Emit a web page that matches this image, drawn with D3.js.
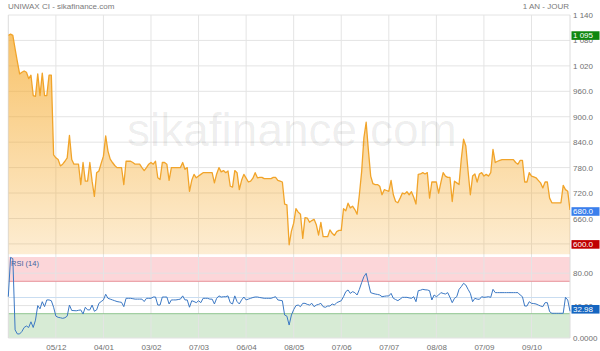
<!DOCTYPE html>
<html>
<head>
<meta charset="utf-8">
<script src="https://cdn.jsdelivr.net/npm/d3@7"></script>
<style>
body { margin: 0; background: #fff; }
svg { display: block; font-family: "Liberation Sans", Arial, sans-serif; }
</style>
</head>
<body>
<script>

// daily closing prices, one per trading day
var price = [
1092,1095,1092,1060,1030,1001,1005,1008,1005,990,
998,950,948,1001,950,1003,950,950,998,998,
810,803,799,784,788,795,803,856,799,788,
788,788,740,792,748,748,792,748,712,768,
772,790,807,855,819,800,792,785,780,780,
780,740,795,795,795,792,788,788,788,780,
773,780,788,792,788,795,756,752,792,792,
788,750,780,780,780,780,780,792,776,780,
724,750,764,756,760,764,768,768,768,768,
768,744,765,780,770,773,768,772,736,734,
773,768,728,750,764,755,746,748,755,768,
756,757,757,754,754,754,754,757,757,750,
748,746,694,692,598,630,649,683,675,670,
613,662,661,651,655,658,645,621,651,617,
617,617,633,625,620,629,632,632,683,678,
696,685,689,681,670,716,770,850,887,820,
760,742,740,740,736,716,728,726,724,750,
716,700,697,708,720,718,723,716,723,710,
694,764,765,768,765,768,708,746,746,746,
720,745,768,760,757,757,700,748,744,740,
800,847,831,772,716,760,765,746,765,768,
760,764,760,768,823,792,795,797,799,799,
799,799,799,799,792,788,797,797,746,746,
768,760,758,756,750,744,732,746,746,708,
697,697,697,697,697,738,728,724,680
];

// RSI (14)
var rsi = [
51,99.5,98,10,5,5,8,13,14.8,13,
20,13,22,40,36,44.8,38.7,47,47,46,
38,27,25.5,25,24.3,25,27,40.7,34,33.8,
33.6,34.2,34.7,29.6,38,34.7,34.7,40.7,33,34.7,
42.8,45,47,54,49,48,47,46,45,44.5,
44,38.7,49,49,49,48.5,48,48,48,48,
45,49,49,49,50.6,50.6,40.7,40.7,50.6,50.6,
50.6,42,47,47,47,47.5,48,52,47,47,
38,46,45,43.6,46,43.6,49,49,49,48,
48,42,49,52,50.5,51,51,52,43.6,42,
52,45,42,47,50.6,47,48,49,50,50.6,
50.6,50,49.5,49,49,49,49,50,51,47,
46.5,46,28.4,27,16,28.4,35,40,40.7,38.7,
42.8,42.8,41.5,40.7,42.8,38.7,40.7,41.5,42.8,38.7,
37.9,39.5,39.5,42,40.7,43.6,44.8,46,51,57.2,
59.3,55.1,57.2,56,53.1,60,68.3,75.7,79.8,67.5,
56,55,54.3,53.8,53.1,51,51.5,51.9,51.9,55.1,
49,47.5,46.1,48,50.2,50.2,50.2,49.5,49,51,
44.8,58.4,59,60.1,59.5,59.3,58.4,46.9,53.1,51,
53.1,56,55,54.3,56,50.2,43.6,49,51,60,
63.4,67.5,65.4,60,55.1,44.8,49,48,47.7,51,
50.2,50.5,51,50.2,60.1,56,56,56,56,56,
56,56,56,56,56,56,53.1,51,39.5,39.5,
44.8,42.8,42.5,42,40.7,39.5,38.7,43.6,43.6,32.5,
30.5,30.5,30.5,30.5,30.5,30.5,50.2,46.9,32.98
];

// x axis: trading-day index of each tick and its label
var tickIdx = [21, 42, 63, 84, 105, 126, 147, 168, 189, 210, 231];
var tickLabels = ["05/12","04/01","03/02","07/03","06/04","08/05","07/06","07/07","08/08","07/09","09/10"];

var priceTicks = [600, 660, 720, 780, 840, 900, 960, 1020, 1080, 1140];
var priceTickLabels = ["600.0","660.0","720.0","780.0","840.0","900.0","960.0","1 020","1 080","1 140"];
var rsiTicks = [0, 40, 80];
var rsiTickLabels = ["0.0000","40.00","80.00"];

var highValue = 1095, lowValue = 600;

var width = 600, height = 351;
var left = 8.3, right = 570;
var priceTop = 15, priceBottom = 254.5;
var rsiTop = 257, rsiBottom = 338;

var x = d3.scaleLinear().domain([0, price.length - 1]).range([left, right]);
var y = d3.scaleLinear().domain([575, 1140]).range([priceBottom, priceTop]);
var yr = d3.scaleLinear().domain([0, 100]).range([rsiBottom, rsiTop]);

var svg = d3.select("body").append("svg")
    .attr("width", width)
    .attr("height", height);

var defs = svg.append("defs");
var grad = defs.append("linearGradient")
    .attr("id", "fillGrad")
    .attr("gradientUnits", "userSpaceOnUse")
    .attr("x1", 0).attr("y1", priceTop).attr("x2", 0).attr("y2", priceBottom);
grad.append("stop").attr("offset", "0%").attr("stop-color", "#f5a623").attr("stop-opacity", 0.72);
grad.append("stop").attr("offset", "100%").attr("stop-color", "#f5a623").attr("stop-opacity", 0.2);

defs.append("clipPath").attr("id", "priceClip")
  .append("rect").attr("x", left).attr("y", priceTop)
    .attr("width", right - left).attr("height", priceBottom - priceTop);

// header
svg.append("text").attr("x", 8).attr("y", 8.5)
    .style("font-size", "8px").style("fill", "#7a7a7a")
    .text("UNIWAX CI - sikafinance.com");
svg.append("text").attr("x", 569).attr("y", 8.5)
    .attr("text-anchor", "end")
    .style("font-size", "8px").style("fill", "#7a7a7a")
    .text("1 AN - JOUR");

// rsi bands
svg.append("rect").attr("x", left).attr("width", right - left)
    .attr("y", yr(100)).attr("height", yr(70) - yr(100)).style("fill", "#fcd6d9");
svg.append("rect").attr("x", left).attr("width", right - left)
    .attr("y", yr(30)).attr("height", yr(0) - yr(30)).style("fill", "#d7ebd5");

// grid
svg.append("g").selectAll("line").data(priceTicks).enter().append("line")
    .attr("x1", left).attr("x2", right)
    .attr("y1", function(d) { return y(d); }).attr("y2", function(d) { return y(d); })
    .style("stroke", "#e4e4e4");
svg.append("g").selectAll("line").data(rsiTicks).enter().append("line")
    .attr("x1", left).attr("x2", right)
    .attr("y1", function(d) { return yr(d); }).attr("y2", function(d) { return yr(d); })
    .style("stroke", "#e2e2e2");
svg.append("g").selectAll("line").data(tickIdx).enter().append("line")
    .attr("x1", function(d) { return x(d); }).attr("x2", function(d) { return x(d); })
    .attr("y1", priceTop).attr("y2", rsiBottom)
    .style("stroke", "#e4e4e4");

svg.append("line").attr("x1", left).attr("x2", right).attr("y1", yr(70)).attr("y2", yr(70))
    .style("stroke", "#e8939a");
svg.append("line").attr("x1", left).attr("x2", right).attr("y1", yr(30)).attr("y2", yr(30))
    .style("stroke", "#8fc68f");
svg.append("line").attr("x1", left).attr("x2", right).attr("y1", yr(50)).attr("y2", yr(50))
    .style("stroke", "#c9ddf1");

// frame
svg.append("line").attr("x1", left).attr("x2", left).attr("y1", priceTop).attr("y2", rsiBottom)
    .style("stroke", "#dcdcdc");
svg.append("line").attr("x1", right).attr("x2", right).attr("y1", priceTop).attr("y2", rsiBottom)
    .style("stroke", "#dcdcdc");

// watermark
svg.append("text").attr("x", 127).attr("y", 146)
    .style("font-size", "46px").style("fill", "#000").style("fill-opacity", 0.07)
    .text("sikafinance.com");

// price area + line
var area = d3.area()
    .x(function(d, i) { return x(i); })
    .y0(priceBottom)
    .y1(function(d) { return y(d); });
var line = d3.line()
    .x(function(d, i) { return x(i); })
    .y(function(d) { return y(d); });

var pg = svg.append("g").attr("clip-path", "url(#priceClip)");
pg.append("path").datum(price).attr("d", area).style("fill", "url(#fillGrad)");
pg.append("path").datum(price).attr("d", line)
    .style("fill", "none").style("stroke", "#f1a42a").style("stroke-width", 1.3)
    .style("stroke-linejoin", "round");

// rsi line
var rline = d3.line()
    .x(function(d, i) { return x(i); })
    .y(function(d) { return yr(d); });
svg.append("path").datum(rsi).attr("d", rline)
    .style("fill", "none").style("stroke", "#3b78c4").style("stroke-width", 1);

svg.append("text").attr("x", 11).attr("y", 265.5)
    .style("font-size", "7.5px").style("fill", "#4064a0")
    .text("RSI (14)");

// axes
var xAxis = svg.append("g").attr("transform", "translate(0," + rsiBottom + ")")
    .call(d3.axisBottom(x).tickValues(tickIdx)
      .tickFormat(function(d, i) { return tickLabels[i]; })
      .tickSize(0).tickPadding(6));
var yAxis = svg.append("g").attr("transform", "translate(" + right + ",0)")
    .call(d3.axisRight(y).tickValues(priceTicks)
      .tickFormat(function(d, i) { return priceTickLabels[i]; })
      .tickSize(0).tickPadding(3));
var rAxis = svg.append("g").attr("transform", "translate(" + right + ",0)")
    .call(d3.axisRight(yr).tickValues(rsiTicks)
      .tickFormat(function(d, i) { return rsiTickLabels[i]; })
      .tickSize(0).tickPadding(3));

[xAxis, yAxis, rAxis].forEach(function(a) {
  a.select(".domain").remove();
  a.selectAll("text").style("font-size", "8px").style("fill", "#707070")
    .style("font-family", "'Liberation Sans', Arial, sans-serif");
});

// value boxes
function box(cy, label, color) {
  svg.append("rect").attr("x", 571.5).attr("y", cy - 4.3)
      .attr("width", 28).attr("height", 8.6).style("fill", color);
  svg.append("text").attr("x", 573).attr("y", cy + 2.9)
      .style("font-size", "8px").style("fill", "#fff")
      .text(label);
}
box(y(highValue) + 1.5, "1 095", "#0f870f");
box(y(price[price.length - 1]) + 1.5, price[price.length - 1].toFixed(1), "#3b7fec");
box(y(lowValue) + 0.5, lowValue.toFixed(1), "#c00000");
box(yr(rsi[rsi.length - 1]) - 2, rsi[rsi.length - 1].toFixed(2), "#1565c0");

</script>
</body>
</html>
